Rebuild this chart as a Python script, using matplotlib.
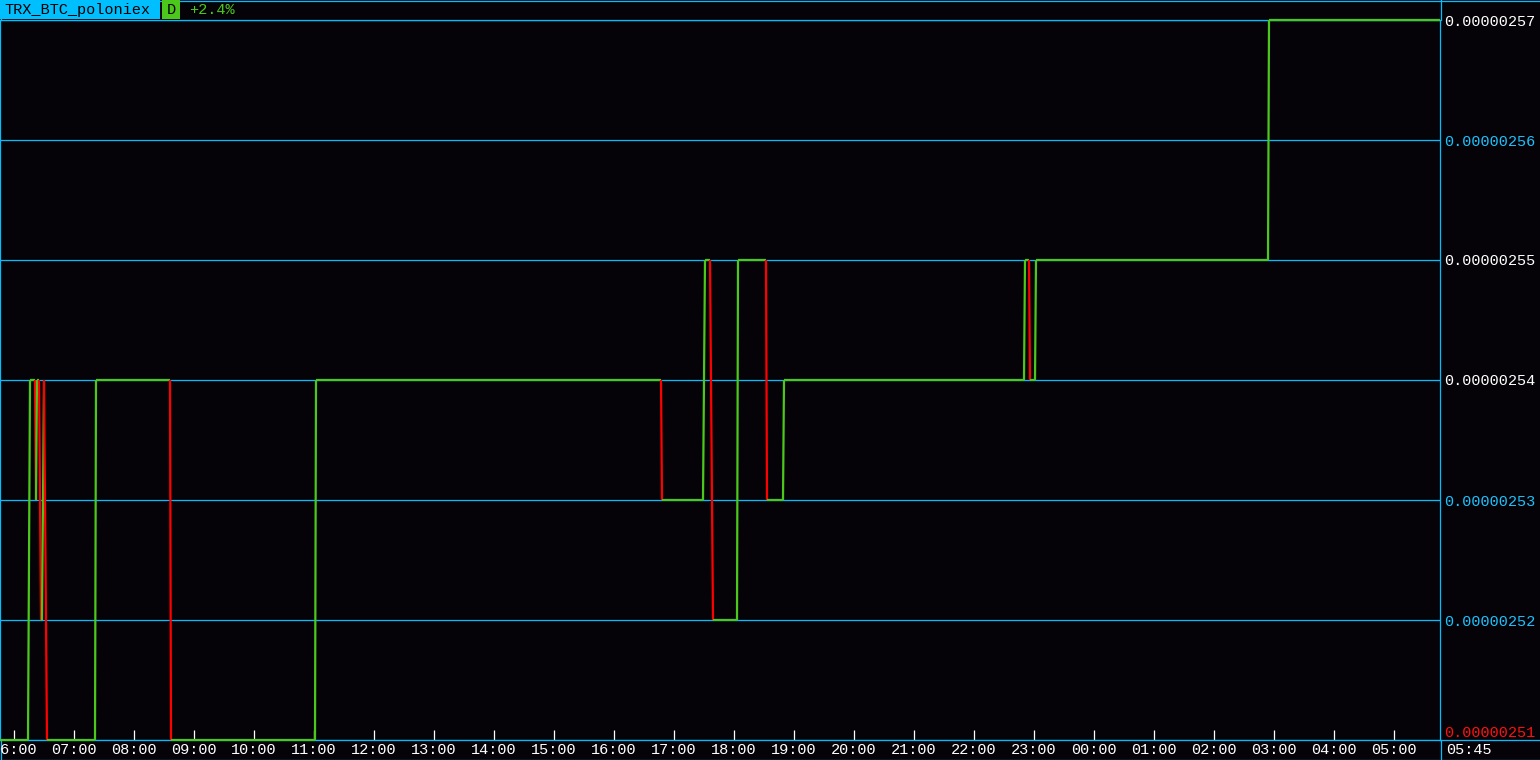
import matplotlib
matplotlib.use("Agg")
from matplotlib import pyplot as plt
import matplotlib.dates as mdates
from matplotlib.collections import LineCollection
from matplotlib.lines import Line2D
from matplotlib.patches import Rectangle
import pandas as pd

# price change points (time of day, price in BTC)
times = ["05:46", "06:14", "06:16", "06:21", "06:22", "06:23", "06:25", "06:27",
         "06:28", "06:30", "06:33", "07:21", "07:22", "08:36", "08:37", "11:01",
         "11:02", "16:47", "16:48", "17:29", "17:31", "17:36", "17:39", "18:03",
         "18:04", "18:32", "18:33", "18:49", "18:50", "22:50", "22:51", "22:55",
         "22:56", "23:01", "23:02", "02:54", "02:55", "05:46"]
prices = [251, 251, 254, 254, 253, 254, 254, 252,
          252, 254, 251, 251, 254, 254, 251, 251,
          254, 254, 253, 253, 255, 255, 252, 252,
          255, 255, 253, 253, 254, 254, 255, 255,
          254, 254, 255, 255, 257, 257]
prices = [p * 1e-8 for p in prices]

levels = [251, 252, 253, 254, 255, 256, 257]
level_colors = ["#ff1010", "#19c3ff", "#19c3ff", "#ffffff", "#ffffff", "#19c3ff", "#ffffff"]
symbol = "TRX_BTC_poloniex"
period = "D"
change = "+2.4%"
last_time = "05:45"

BG = "#050307"
CYAN = "#00bfff"
GREEN = "#4cc81c"
RED = "#ff0000"
FONT = "Liberation Mono"
W, H = 1540, 760

# times -> datetimes, rolling over midnight
stamps = []
day = pd.Timestamp("2018-06-01")
prev = None
for t in times:
    ts = pd.Timestamp(f"{day.date()} {t}")
    if prev is not None and ts < prev:
        day = day + pd.Timedelta(days=1)
        ts = ts + pd.Timedelta(days=1)
    stamps.append(ts)
    prev = ts
xs = mdates.date2num(stamps)

fig = plt.figure(figsize=(W / 100, H / 100), dpi=100, facecolor=BG)
ax = fig.add_axes([0, 20 / H, 1440 / W, 720 / H])
ax.set_facecolor(BG)

for lv in levels:
    ax.axhline(lv * 1e-8, color=CYAN, lw=0.9, zorder=1)

segs = []
cols = []
for i in range(len(xs) - 1):
    segs.append([(xs[i], prices[i]), (xs[i + 1], prices[i + 1])])
    cols.append(RED if prices[i + 1] < prices[i] else GREEN)
lc = LineCollection(segs, colors=cols, linewidths=1.6, capstyle="butt", zorder=4)
lc.set_clip_on(False)
ax.add_collection(lc)

ax.set_xlim(xs[0], xs[-1])
ax.set_ylim(levels[0] * 1e-8, levels[-1] * 1e-8)

ax.xaxis.set_major_locator(mdates.HourLocator())
ax.xaxis.set_major_formatter(mdates.DateFormatter("%H:%M"))
ax.tick_params(axis="x", direction="in", length=7.5, width=0.9, color="white",
               labelcolor="white", pad=2.5, labelsize=11)
for lab in ax.get_xticklabels():
    lab.set_fontfamily(FONT)

ax.yaxis.tick_right()
ax.set_yticks([lv * 1e-8 for lv in levels])
ax.set_yticklabels([f"{lv * 1e-8:.8f}" for lv in levels])
ax.tick_params(axis="y", length=0, pad=3, labelsize=11)
for lab, c in zip(ax.get_yticklabels(), level_colors):
    lab.set_color(c)
    lab.set_fontfamily(FONT)
ax.get_yticklabels()[0].set_va("bottom")

for sp in ax.spines.values():
    sp.set_color(CYAN)
    sp.set_linewidth(0.9)
    sp.set_zorder(2)

# frame lines of the whole panel
def px_line(x0, y0, x1, y1):
    fig.add_artist(Line2D([x0 / W, x1 / W], [1 - y0 / H, 1 - y1 / H],
                          transform=fig.transFigure, color=CYAN, lw=0.9, zorder=0))

px_line(0, 0.5, W, 0.5)
px_line(1440, 740, W, 740)
px_line(1440.5, 0, 1440.5, 20)
px_line(1440.5, 740, 1440.5, H)
px_line(0.5, 0, 0.5, 20)
px_line(0.5, 740, 0.5, H)
px_line(0, 759.5, W, 759.5)

# header
fig.add_artist(Rectangle((0, 1 - 19 / H), 160 / W, 19 / H, transform=fig.transFigure,
                         facecolor=CYAN, edgecolor="none"))
fig.add_artist(Rectangle((162 / W, 1 - 19 / H), 18 / W, 19 / H, transform=fig.transFigure,
                         facecolor=GREEN, edgecolor="none"))
fig.text(4 / W, 1 - 10 / H, symbol, color="black", fontsize=11, family=FONT,
         ha="left", va="center")
fig.text(171 / W, 1 - 10 / H, period, color="black", fontsize=11, family=FONT,
         ha="center", va="center")
fig.text(189 / W, 1 - 10 / H, change, color=GREEN, fontsize=11, family=FONT,
         ha="left", va="center")
fig.text(1446 / W, 1 - 750 / H, last_time, color="white", fontsize=11, family=FONT,
         ha="left", va="center")

fig.savefig("out.png", dpi=100, facecolor=BG)
